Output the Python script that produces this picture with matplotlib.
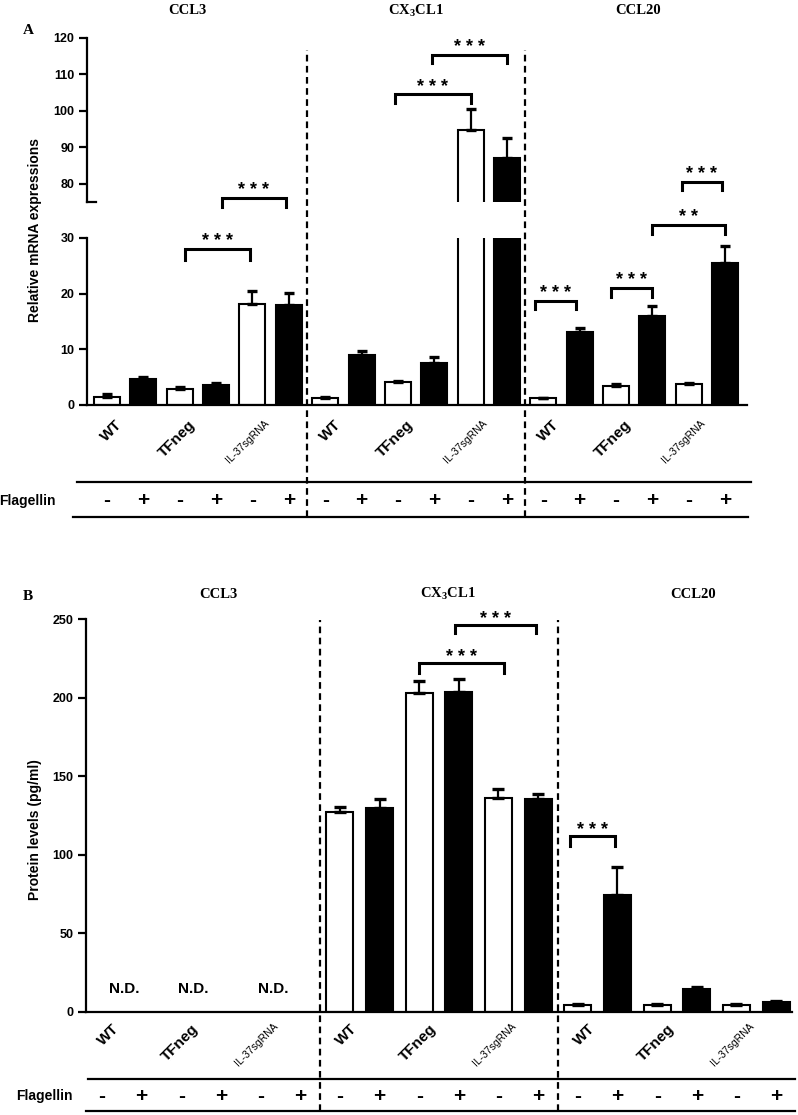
import matplotlib
matplotlib.use("Agg")
import matplotlib.pyplot as plt
import numpy as np

plt.rcParams['font.family'] = ['Liberation Sans', 'DejaVu Sans']
plt.rcParams['font.weight'] = 'bold'
plt.rcParams['mathtext.fontset'] = 'custom'
plt.rcParams['mathtext.rm'] = 'Liberation Serif'
plt.rcParams['mathtext.bf'] = 'Liberation Serif:bold'

# ---- data ----
groups = ['CCL3', 'CX$_\\mathbf{3}$CL1', 'CCL20']
cells = ['WT', 'TFneg', 'IL-37sgRNA']
flagellin = ['-', '+'] * 9

# panel A: relative mRNA expression (order per gene: WT-, WT+, TFneg-, TFneg+, IL37-, IL37+)
ccl3_a = [1.4, 4.7, 2.8, 3.6, 18.1, 17.9]
ccl3_a_err = [0.5, 0.3, 0.5, 0.3, 2.4, 2.3]
cx3cl1_a = [1.2, 9.0, 4.2, 7.6, 94.7, 87.1]
cx3cl1_a_err = [0.2, 0.7, 0.2, 1.0, 5.7, 5.3]
ccl20_a = [1.2, 13.2, 3.5, 15.9, 3.8, 25.5]
ccl20_a_err = [0.1, 0.6, 0.2, 1.9, 0.1, 3.1]

# panel B: protein levels (pg/ml); CCL3 not detected
ccl3_b = [np.nan] * 6
ccl3_b_err = [np.nan] * 6
cx3cl1_b = [127.4, 130.0, 203.2, 203.8, 136.0, 135.3]
cx3cl1_b_err = [3.2, 5.5, 7.6, 8.1, 5.6, 3.4]
ccl20_b = [4.5, 74.3, 4.3, 14.3, 4.3, 6.2]
ccl20_b_err = [0.3, 17.7, 0.3, 1.6, 0.3, 0.4]

# significance brackets: (x1, x2, y top, y leg end, label)
sig_a_low = [(2.15, 3.93, 28.0, 26.0, '* * *'),
             (11.77, 12.9, 18.7, 17.2, '* * *'),
             (13.86, 15.0, 21.0, 19.4, '* * *'),
             (15.0, 17.0, 32.3, 30.8, '* *')]
sig_a_top = [(3.16, 4.92, 76.2, 73.7, '* * *'),
             (7.92, 10.0, 104.5, 102.0, '* * *'),
             (8.95, 11.0, 115.3, 113.0, '* * *'),
             (15.8, 16.9, 80.5, 78.3, '* * *')]
sig_b = [(8.0, 10.15, 222.0, 216.0, '* * *'),
         (8.9, 10.94, 246.3, 241.0, '* * *'),
         (11.8, 12.94, 112.0, 105.5, '* * *')]

vals_a = np.array(ccl3_a + cx3cl1_a + ccl20_a)
errs_a = np.array(ccl3_a_err + cx3cl1_a_err + ccl20_a_err)
vals_b = np.array(ccl3_b + cx3cl1_b + ccl20_b)
errs_b = np.array(ccl3_b_err + cx3cl1_b_err + ccl20_b_err)
pos = np.arange(18)
fills = ['white', 'black'] * 9
label_pos = np.arange(0.5, 18, 2)
tick_labels = cells * 3

W, H = 798, 1115
fig = plt.figure(figsize=(W / 100, H / 100), dpi=100)


def add_ax(l, t, r, b):
    return fig.add_axes([l / W, 1 - b / H, (r - l) / W, (b - t) / H])


def style(ax):
    for s in ['top', 'right']:
        ax.spines[s].set_visible(False)
    for s in ['left', 'bottom']:
        ax.spines[s].set_linewidth(1.6)
    ax.tick_params(axis='y', width=1.6, length=6, labelsize=9, pad=3)


def draw_bars(ax, vals, errs, width, cap):
    ax.bar(pos, vals, width, color=fills, edgecolor='black', linewidth=1.5, zorder=2)
    ax.errorbar(pos, vals, yerr=[np.zeros(len(errs)), errs], fmt='none', ecolor='black',
                elinewidth=1.6, capsize=cap, capthick=2.4, zorder=3)


def bracket(ax, x1, x2, y1, y0, lab, off=2):
    ax.plot([x1, x1, x2, x2], [y0, y1, y1, y0], color='black', lw=2.2,
            clip_on=False, solid_joinstyle='miter')
    ax.annotate(lab, xy=((x1 + x2) / 2, y1), xytext=(0, off), textcoords='offset points',
                ha='center', va='baseline', fontsize=13, fontweight='bold',
                annotation_clip=False)


def xlabels(ax, pad):
    ax.set_xticks(label_pos, tick_labels, rotation=45, ha='right')
    ax.tick_params(axis='x', length=0, pad=pad, labelsize=11)
    for t in ax.get_xticklabels():
        if t.get_text() == 'IL-37sgRNA':
            t.set_fontsize(7.5)
            t.set_fontweight('normal')


def flag_row(ax, y_top, y_bot, y_txt, x_lo, x_hi, flag_x):
    # y values in axes fraction, x in axes fraction for the lines
    ax.plot([x_lo[0], x_hi[0]], [y_top, y_top], color='black', lw=1.6,
            transform=ax.transAxes, clip_on=False)
    ax.plot([x_lo[1], x_hi[1]], [y_bot, y_bot], color='black', lw=1.6,
            transform=ax.transAxes, clip_on=False)
    tr = ax.get_xaxis_transform()
    for p, f in zip(pos, flagellin):
        ax.text(p, y_txt, f, transform=tr, ha='center', va='center', fontsize=15,
                fontweight='bold', clip_on=False)
    ax.text(flag_x, y_txt, 'Flagellin', transform=ax.transAxes, ha='right',
            va='center', fontsize=10)


# ---- panel A (broken y axis) ----
a_l, a_r = 87, 747
ax_top = add_ax(a_l, 37.7, a_r, 202)
ax_low = add_ax(a_l, 238, a_r, 405)
for ax in (ax_top, ax_low):
    style(ax)
    draw_bars(ax, vals_a, errs_a, 0.715, 3.6)
    ax.set_xlim(-0.55, 17.6)
ax_top.set_ylim(75, 120)
ax_top.set_yticks([80, 90, 100, 110, 120])
ax_top.spines['bottom'].set_visible(False)
ax_top.set_xticks([])
ax_top.plot([0, 0.013], [0, 0], color='black', lw=1.6, transform=ax_top.transAxes,
            clip_on=False)
ax_low.set_ylim(0, 30)
ax_low.set_yticks([0, 10, 20, 30])
xlabels(ax_low, 9)

for s in sig_a_low:
    bracket(ax_low, *s)
for s in sig_a_top:
    bracket(ax_top, *s)

hA = 405 - 238
for x in (5.5, 11.5):
    ax_low.axvline(x, ymin=(405 - 517) / hA, ymax=(405 - 50) / hA, color='black',
                   lw=1.6, ls=(0, (3, 2)), clip_on=False)
wA = a_r - a_l
flag_row(ax_low, (405 - 482.3) / hA, (405 - 516.7) / hA, (405 - 501) / hA,
         ((77 - a_l) / wA, (73 - a_l) / wA), ((751 - a_l) / wA, (748 - a_l) / wA),
         (56 - a_l) / wA)

tA = ax_top.get_xaxis_transform()
for x, g in zip([2.2, 8.5, 14.6], groups):
    ax_top.text(x, 1 + (37.7 - 11) / (202 - 37.7), g, transform=tA, ha='center',
                va='center', fontsize=10.5, fontfamily='Liberation Serif')
fig.text(28 / W, 1 - 30 / H, 'A', ha='center', va='center', fontsize=11,
         fontfamily='Liberation Serif')
fig.text(35 / W, 1 - 230 / H, 'Relative mRNA expressions', rotation=90,
         ha='center', va='center', fontsize=10)

# ---- panel B ----
b_l, b_r, b_t, b_b = 86, 792, 619.3, 1011.7
ax_b = add_ax(b_l, b_t, b_r, b_b)
style(ax_b)
draw_bars(ax_b, vals_b, errs_b, 0.68, 4.6)
ax_b.set_xlim(-0.4, 17.4)
ax_b.set_ylim(0, 250)
ax_b.set_yticks(np.arange(0, 251, 50))
xlabels(ax_b, 7)
for s in sig_b:
    bracket(ax_b, *s, off=1)
for x in (0.56, 2.3, 4.32):
    ax_b.text(x, 14.5, 'N.D.', ha='center', va='center', fontsize=11)

hB = b_b - b_t
for x in (5.5, 11.5):
    ax_b.axvline(x, ymin=(b_b - 1111) / hB, ymax=(b_b - 620) / hB, color='black',
                 lw=1.6, ls=(0, (3, 2)), clip_on=False)
wB = b_r - b_l
flag_row(ax_b, (b_b - 1079.3) / hB, (b_b - 1110.7) / hB, (b_b - 1096) / hB,
         ((88 - b_l) / wB, (86 - b_l) / wB), ((795 - b_l) / wB, (795 - b_l) / wB),
         (73 - b_l) / wB)

tB = ax_b.get_xaxis_transform()
for x, g in zip([2.95, 8.73, 14.9], groups):
    ax_b.text(x, 1 + (b_t - 594) / hB, g, transform=tB, ha='center', va='center',
              fontsize=10.5, fontfamily='Liberation Serif')
fig.text(28 / W, 1 - 596 / H, 'B', ha='center', va='center', fontsize=11,
         fontfamily='Liberation Serif')
fig.text(35 / W, 1 - 830 / H, 'Protein levels (pg/ml)', rotation=90,
         ha='center', va='center', fontsize=10)

fig.savefig('out.png', dpi=100)
